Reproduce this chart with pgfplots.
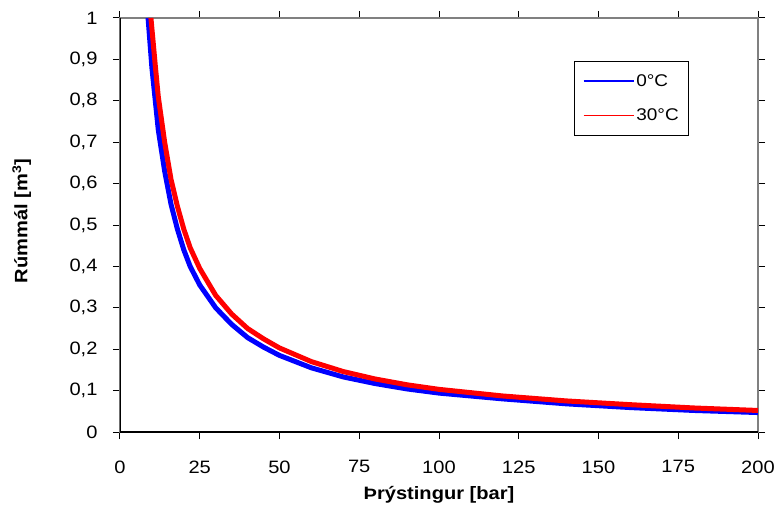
\documentclass[border=0pt]{standalone}
\usepackage{pgfplots}
\pgfplotsset{compat=1.18}
\usepackage{fontspec}
\setmainfont[FakeStretch=1.12]{Liberation Sans}

\definecolor{framegray}{RGB}{128,128,128}

\begin{document}
\begin{tikzpicture}
\begin{axis}[
    scale only axis,
    width=638bp,
    height=414bp,
    xmin=0, xmax=200,
    ymin=0, ymax=1,
    xtick={0,25,...,200},
    ytick={0,0.1,...,1},
    yticklabel style={/pgf/number format/use comma,/pgf/number format/fixed},
    /pgf/number format/assume math mode=true,
    tick align=outside,
    major tick length=7bp,
    tick style={black, line width=1pt},
    axis line style={framegray, line width=2.5pt},
    every tick label/.append style={font=\fontsize{18}{21}\selectfont},
    xticklabel style={yshift=-18bp},
    yticklabel style={xshift=-12bp},
    xlabel={\textbf{Þrýstingur [bar]}},
    ylabel={\textbf{Rúmmál [m\textsuperscript{3}]}},
    label style={font=\fontsize{18}{21}\selectfont},
    xlabel style={at={(axis description cs:0.5,-0.152)}, anchor=center},
    ylabel style={at={(axis description cs:-0.154,0.51)}, anchor=center},
    legend style={at={(axis description cs:0.712,0.896)}, anchor=north west,
        draw=black, line width=1pt, font=\fontsize{17}{20}\selectfont,
        inner xsep=8bp, inner ysep=11bp, row sep=17bp},
    legend cell align=left,
    legend image code/.code={\draw[line width=1.6pt, #1] (0bp,0bp) -- (50bp,0bp);},
    clip=true,
]
\addplot[color=blue, line width=5bp] coordinates {
(8.8,1.0) (10,0.88) (12,0.73) (14,0.63) (16,0.55) (18,0.49) (20,0.44)
(22,0.40) (25,0.355) (30,0.30) (35,0.26) (40,0.228) (45,0.205) (50,0.185)
(60,0.155) (70,0.133) (80,0.117) (90,0.104) (100,0.094) (120,0.080)
(140,0.068) (160,0.059) (180,0.052) (200,0.047)
};
\addlegendentry{0°C}
\addplot[color=red, line width=5bp] coordinates {
(9.7,1.0) (11,0.89) (12,0.81) (14,0.70) (16,0.61) (18,0.545) (20,0.49)
(22,0.445) (25,0.395) (30,0.33) (35,0.285) (40,0.25) (45,0.225) (50,0.203)
(60,0.17) (70,0.146) (80,0.128) (90,0.114) (100,0.103) (120,0.087)
(140,0.075) (160,0.066) (180,0.058) (200,0.052)
};
\addlegendentry{30°C}
\draw[black, line width=2pt] (rel axis cs:0,1) -- (rel axis cs:0,0) -- (rel axis cs:1,0);
\end{axis}
\pgfresetboundingbox
\useasboundingbox (-120bp,-84bp) rectangle (658bp,432bp);
\end{tikzpicture}
\end{document}
